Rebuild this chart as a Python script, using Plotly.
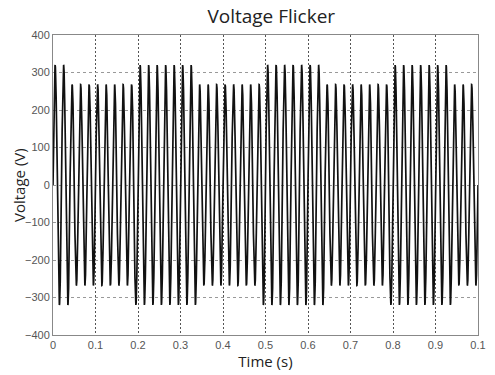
import numpy as np
import plotly.graph_objects as go

# Data
freq_hz = 50                      # supply frequency (cycles per second)
seg_start = [0.00, 0.04, 0.19, 0.34, 0.49, 0.64, 0.79, 0.94]   # s, start of each amplitude segment
seg_amp = [320, 268, 320, 268, 320, 268, 320, 268]             # V, peak amplitude in each segment
t_end = 1.0
x_tickvals = [0, 0.1, 0.2, 0.3, 0.4, 0.5, 0.6, 0.7, 0.8, 0.9, 1.0]
x_ticktext = ["0", "0.1", "0.2", "0.3", "0.4", "0.5", "0.6", "0.7", "0.8", "0.9", "0.1"]
y_tickvals = [-400, -300, -200, -100, 0, 100, 200, 300, 400]

# Build the waveform: sine at freq_hz with the segment amplitude envelope
t = np.linspace(0, t_end, 20001)
idx = np.searchsorted(np.array(seg_start), t, side="right") - 1
amp = np.array(seg_amp)[idx]
v = amp * np.sin(2 * np.pi * freq_hz * t)

fig = go.Figure()
fig.add_trace(go.Scatter(x=t, y=v, mode="lines",
                         line=dict(color="#111111", width=1.7),
                         showlegend=False, hoverinfo="skip"))

fig.update_layout(
    width=495, height=375,
    margin=dict(l=53, r=9, t=35, b=33),
    paper_bgcolor="white", plot_bgcolor="white",
    title=dict(text="Voltage Flicker", x=0.548, xanchor="center",
               y=1 - 16 / 375, yanchor="middle", yref="container",
               font=dict(family="Open Sans", size=19, color="#222222")),
    annotations=[dict(text="Voltage (V)", textangle=-90, xref="paper", yref="paper",
                      x=0, y=0.5, xanchor="center", yanchor="middle", xshift=-34,
                      showarrow=False,
                      font=dict(family="Open Sans", size=15, color="#222222"))],
)
fig.update_xaxes(
    range=[0, 1], tickvals=x_tickvals, ticktext=x_ticktext,
    showgrid=True, gridcolor="#555555", griddash="2px,2px", gridwidth=1,
    showline=True, linecolor="#888888", linewidth=1, mirror=True,
    zeroline=False, ticks="",
    tickfont=dict(family="Liberation Sans", size=11, color="#555555"),
    title=dict(text="Time (s)", standoff=4,
               font=dict(family="Open Sans", size=15, color="#222222")),
)
fig.update_yaxes(
    range=[-400, 400], tickvals=y_tickvals,
    showgrid=True, gridcolor="#999999", griddash="3px,3px", gridwidth=1,
    showline=True, linecolor="#888888", linewidth=1, mirror=True,
    zeroline=False, ticks="",
    tickfont=dict(family="Liberation Sans", size=11, color="#555555"),
)

fig.write_html("out.html")
